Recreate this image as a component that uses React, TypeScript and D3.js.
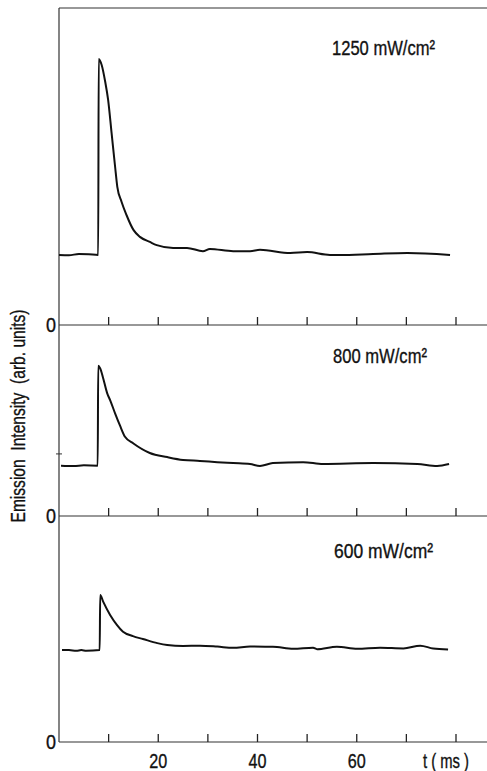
import React from "react";
import * as d3 from "d3";

// ---- data (time in ms, intensity in arbitrary units) ----
const panelLabels = ["1250 mW/cm²", "800 mW/cm²", "600 mW/cm²"];
const panelMax = [100, 60.3, 71.3];

const trace1250: [number, number][] = [
  [0, 22.1], [2, 22.0], [4, 22.4], [6, 22.3], [7.9, 22.1], [8.0, 83.9], [8.6, 82.0],
  [9.3, 76.8], [9.9, 71.0], [10.6, 60.5], [11.3, 50.0], [11.75, 43.6], [12.6, 38.9],
  [13.6, 34.7], [15.0, 30.0], [16.3, 27.8], [18.3, 26.2], [19.7, 25.2], [23.0, 24.3],
  [25.8, 24.3], [29.0, 23.3], [30.4, 24.0], [35.1, 23.3], [38.5, 23.3], [40.5, 23.7],
  [46.6, 22.7], [50.0, 23.0], [54.6, 22.1], [56.6, 22.1], [63.3, 22.4], [70.2, 22.7],
  [78.8, 22.1],
];

const trace800: [number, number][] = [
  [0.4, 15.9], [3, 15.8], [5, 16.0], [7.8, 15.9], [7.9, 47.4], [8.3, 46.6], [8.9, 43.5],
  [9.7, 38.8], [10.3, 36.6], [11.3, 32.4], [12.3, 28.5], [13.3, 25.0], [15.0, 22.9],
  [18.3, 19.9], [21.8, 18.6], [25, 17.7], [28.4, 17.4], [31.9, 17.0], [35.1, 16.7],
  [38.5, 16.4], [40.5, 15.8], [43.1, 16.7], [49.2, 17.0], [53.2, 16.4], [63.3, 16.7],
  [72.2, 16.4], [76.2, 15.8], [78.6, 16.4],
];

const trace600: [number, number][] = [
  [0.6, 29.0], [2, 29.0], [3.5, 28.8], [4.5, 29.0], [5.5, 28.8], [8.2, 29.0], [8.3, 46.4],
  [8.9, 44.3], [10.3, 40.1], [11.7, 36.9], [12.9, 34.8], [14.9, 33.4], [16.9, 32.5],
  [19.8, 31.2], [21.8, 30.6], [25, 30.3], [28.4, 30.4], [31.9, 30.1], [35.1, 29.7],
  [38.5, 30.1], [43.1, 30.06], [47.2, 29.4], [51.2, 29.75], [52, 29.3], [56, 30.06],
  [60.1, 29.4], [64.7, 29.75], [69.4, 29.5], [72.8, 30.4], [75.4, 29.5], [78.4, 29.2],
];

const xTicks = [10, 20, 30, 40, 50, 60, 70, 80];
const xTickLabels = [20, 40, 60];
const leftMarkValue = 19.6; // small mark on left axis, middle panel

const traces = [trace1250, trace800, trace600];

// ---- layout ----
const W = 487;
const H = 771;
const axisX = 59;
const panelTops = [8, 325, 516];
const panelBottoms = [325, 516, 742];
const FONT = "'Liberation Sans', Arial, sans-serif";
const INK = "#111";
const textStyle = { stroke: INK, strokeWidth: 0.35, whiteSpace: "pre" as const };

export default function App() {
  const x = d3.scaleLinear().domain([0, 80]).range([axisX, 456]);
  const line = d3.line<[number, number]>().curve(d3.curveMonotoneX);

  const labelWidths = [103, 94, 99];
  const labelX = [332, 333, 334];
  const labelBase = [55, 363, 558];

  return (
    <svg width={W} height={H} style={{ position: "absolute", left: 0, top: 0, background: "#fff" }}>
      <rect x={0} y={0} width={W} height={H} fill="#fff" />
      {/* left axis */}
      <line x1={axisX} x2={axisX} y1={8} y2={742} stroke="#333" strokeWidth={1.2} />
      {/* top border */}
      <line x1={axisX} x2={W} y1={8} y2={8} stroke="#333" strokeWidth={1.2} />
      {traces.map((tr, i) => {
        const y = d3.scaleLinear().domain([0, panelMax[i]]).range([panelBottoms[i], panelTops[i]]);
        line.x((d) => x(d[0])).y((d) => y(d[1]));
        const zeroY = y(0);
        return (
          <g key={i}>
            <line x1={axisX} x2={W} y1={zeroY} y2={zeroY} stroke="#333" strokeWidth={1.2} />
            {xTicks.map((t) => (
              <line key={t} x1={x(t)} x2={x(t)} y1={zeroY} y2={zeroY - 8} stroke="#222" strokeWidth={1.3} />
            ))}
            <text x={56} y={zeroY + 7} fontFamily={FONT} fontSize={20} textAnchor="end" fill={INK}
              textLength={10} lengthAdjust="spacingAndGlyphs" style={textStyle}>0</text>
            <path d={line(tr) || ""} fill="none" stroke={INK} strokeWidth={2} strokeLinejoin="round" />
            <text
              x={labelX[i]}
              y={labelBase[i]}
              fontFamily={FONT}
              fontSize={20}
              fill={INK}
              textLength={labelWidths[i]}
              lengthAdjust="spacingAndGlyphs"
              style={textStyle}
            >
              {panelLabels[i]}
            </text>
            {i === 1 && (
              <line x1={axisX - 3} x2={axisX + 3} y1={y(leftMarkValue)} y2={y(leftMarkValue)} stroke="#333" strokeWidth={1} />
            )}
          </g>
        );
      })}
      {xTickLabels.map((t) => (
        <text key={t} x={x(t)} y={768} fontFamily={FONT} fontSize={20} textAnchor="middle" fill={INK}
          textLength={18} lengthAdjust="spacingAndGlyphs" style={textStyle}>
          {t}
        </text>
      ))}
      <text x={423} y={768} fontFamily={FONT} fontSize={20} fill={INK} textLength={46} lengthAdjust="spacingAndGlyphs" style={textStyle}>
        {"t ( ms )"}
      </text>
      <text
        transform={`translate(25,416) rotate(-90)`}
        fontFamily={FONT}
        fontSize={20}
        textAnchor="middle"
        fill={INK}
        textLength={213}
        lengthAdjust="spacingAndGlyphs"
        style={textStyle}
      >
        {"Emission  Intensity  (arb. units)"}
      </text>
    </svg>
  );
}
